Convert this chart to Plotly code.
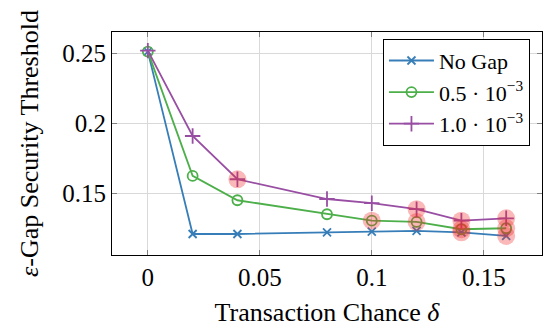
import plotly.graph_objects as go

delta = [0, 0.02, 0.04, 0.08, 0.10, 0.12, 0.14, 0.16]
no_gap = [0.2512, 0.1209, 0.1209, 0.1221, 0.1226, 0.1231, 0.1221, 0.1195]
gap_05 = [0.2512, 0.1624, 0.1450, 0.1350, 0.1304, 0.1295, 0.1243, 0.1250]
gap_10 = [0.2519, 0.1909, 0.1600, 0.1459, 0.1429, 0.1386, 0.1304, 0.1321]
names = ["No Gap", "0.5 · 10<sup>−3</sup>", "1.0 · 10<sup>−3</sup>"]
highlight_idx = {"no_gap": [6, 7], "gap_05": [4, 5, 6, 7], "gap_10": [2, 5, 6, 7]}

blue, green, purple = "#377eb8", "#4daf4a", "#984ea3"
FONT = "Liberation Serif, Times New Roman, serif"

fig = go.Figure()
fig.add_trace(go.Scatter(x=delta, y=no_gap, name=names[0], mode="lines+markers",
                         line=dict(color=blue, width=1.8),
                         marker=dict(symbol="x-thin", size=8, line=dict(color=blue, width=1.8))))
fig.add_trace(go.Scatter(x=delta, y=gap_05, name=names[1], mode="lines+markers",
                         line=dict(color=green, width=1.8),
                         marker=dict(symbol="circle-open", size=10, color=green, line=dict(width=1.8))))
fig.add_trace(go.Scatter(x=delta, y=gap_10, name=names[2], mode="lines+markers",
                         line=dict(color=purple, width=1.8),
                         marker=dict(symbol="cross-thin", size=11, line=dict(color=purple, width=1.8))))

hx, hy = [], []
for key, ys in (("no_gap", no_gap), ("gap_05", gap_05), ("gap_10", gap_10)):
    for i in highlight_idx[key]:
        hx.append(delta[i])
        hy.append(ys[i])
fig.add_trace(go.Scatter(x=hx, y=hy, mode="markers", showlegend=False, hoverinfo="skip",
                         marker=dict(symbol="circle", size=18, color="rgba(240,40,40,0.33)",
                                     line=dict(width=0))))

axis_common = dict(showline=True, linecolor="black", linewidth=1, mirror="ticks",
                   ticks="inside", ticklen=5, tickcolor="#808080", tickwidth=1,
                   showgrid=True, gridcolor="#d9d9d9", gridwidth=1, zeroline=False,
                   tickfont=dict(family=FONT, size=25, color="black"))

fig.update_xaxes(range=[-0.016, 0.176], tickvals=[0, 0.05, 0.1, 0.15],
                 ticktext=["0", "0.05", "0.1", "0.15"],
                 title=dict(text="Transaction Chance <i>δ</i>", font=dict(family=FONT, size=26, color="black"),
                            standoff=12),
                 **axis_common)
fig.update_yaxes(range=[0.1059, 0.2652], tickvals=[0.15, 0.2, 0.25],
                 ticktext=["0.15", "0.2", "0.25"],
                 title=dict(text="<i>ε</i>-Gap Security Threshold", font=dict(family=FONT, size=26, color="black"),
                            standoff=16),
                 **axis_common)

fig.update_layout(
    width=545, height=329,
    margin=dict(l=112, r=3, t=32, b=74),
    paper_bgcolor="white", plot_bgcolor="white",
    font=dict(family=FONT, color="black"),
    legend=dict(x=0.972, y=0.97, xanchor="right", yanchor="top",
                bordercolor="black", borderwidth=1, bgcolor="white",
                font=dict(family=FONT, size=22, color="black"),
                tracegroupgap=0, itemwidth=45),
)

fig.write_html("out.html")
